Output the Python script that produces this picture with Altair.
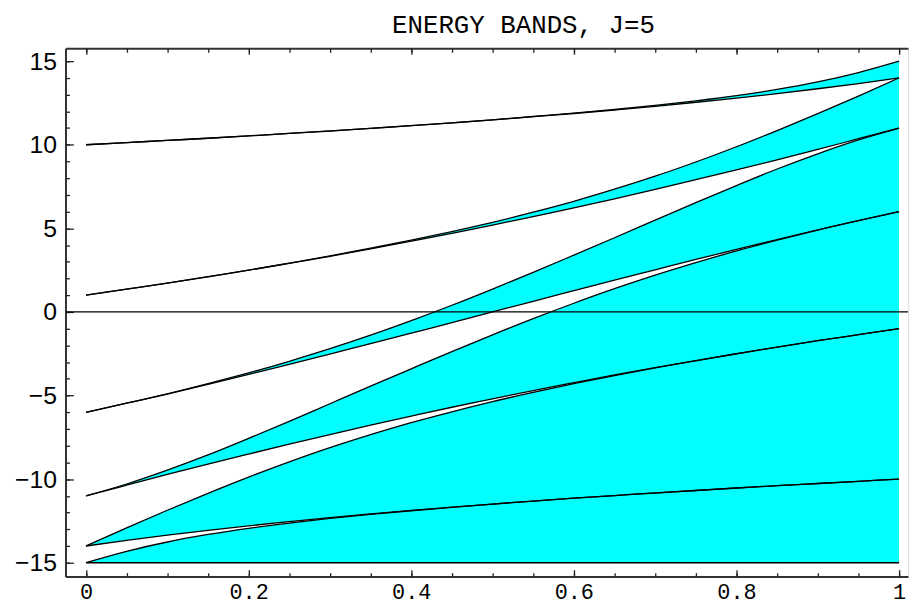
import pandas as pd
import altair as alt

# ---- data (band edges vs. parameter) ----
xv = [0.00, 0.05, 0.10, 0.15, 0.20, 0.25, 0.30, 0.35, 0.40, 0.45, 0.50,
      0.55, 0.60, 0.65, 0.70, 0.75, 0.80, 0.85, 0.90, 0.95, 1.00]
floor = [-15.0, -15.0, -15.0, -15.0, -15.0, -15.0, -15.0, -15.0, -15.0, -15.0, -15.0,
         -15.0, -15.0, -15.0, -15.0, -15.0, -15.0, -15.0, -15.0, -15.0, -15.0]
e0 = [-15.00, -14.32, -13.76, -13.31, -12.94, -12.63, -12.35, -12.11, -11.89, -11.69, -11.49,
      -11.31, -11.14, -10.98, -10.83, -10.68, -10.53, -10.39, -10.26, -10.13, -10.00]
e1 = [-14.00, -13.66, -13.35, -13.06, -12.79, -12.54, -12.30, -12.08, -11.87, -11.68, -11.49,
      -11.31, -11.14, -10.98, -10.82, -10.68, -10.53, -10.39, -10.26, -10.13, -10.00]
e2 = [-14.00, -12.91, -11.86, -10.85, -9.88, -8.97, -8.12, -7.34, -6.62, -5.97, -5.36,
      -4.81, -4.29, -3.81, -3.35, -2.92, -2.50, -2.11, -1.72, -1.36, -1.00]
e3 = [-11.00, -10.36, -9.72, -9.10, -8.50, -7.91, -7.33, -6.77, -6.23, -5.70, -5.20,
      -4.70, -4.23, -3.77, -3.33, -2.91, -2.50, -2.10, -1.72, -1.36, -1.00]
e4 = [-11.00, -10.29, -9.46, -8.55, -7.56, -6.54, -5.49, -4.44, -3.40, -2.37, -1.37,
      -0.40, 0.52, 1.39, 2.20, 2.95, 3.65, 4.29, 4.90, 5.46, 6.00]
e5 = [-6.00, -5.46, -4.91, -4.33, -3.74, -3.14, -2.52, -1.90, -1.27, -0.64, 0.00,
      0.64, 1.27, 1.90, 2.52, 3.14, 3.74, 4.33, 4.91, 5.46, 6.00]
e6 = [-6.00, -5.46, -4.90, -4.29, -3.65, -2.95, -2.20, -1.39, -0.52, 0.40, 1.37,
      2.37, 3.40, 4.44, 5.49, 6.54, 7.56, 8.55, 9.46, 10.29, 11.00]
e7 = [1.00, 1.36, 1.72, 2.10, 2.50, 2.91, 3.33, 3.77, 4.23, 4.70, 5.20,
      5.70, 6.23, 6.77, 7.33, 7.91, 8.50, 9.10, 9.72, 10.36, 11.00]
e8 = [1.00, 1.36, 1.72, 2.11, 2.50, 2.92, 3.35, 3.81, 4.29, 4.81, 5.36,
      5.97, 6.62, 7.34, 8.12, 8.97, 9.88, 10.85, 11.86, 12.91, 14.00]
e9 = [10.00, 10.13, 10.26, 10.39, 10.53, 10.68, 10.82, 10.98, 11.14, 11.31, 11.49,
      11.68, 11.87, 12.08, 12.30, 12.54, 12.79, 13.06, 13.35, 13.66, 14.00]
e10 = [10.00, 10.13, 10.26, 10.39, 10.53, 10.68, 10.83, 10.98, 11.14, 11.31, 11.49,
       11.69, 11.89, 12.11, 12.35, 12.63, 12.94, 13.31, 13.76, 14.32, 15.00]

edges = [floor, e0, e1, e2, e3, e4, e5, e6, e7, e8, e9, e10]
band_pairs = [(floor, e0), (e1, e2), (e3, e4), (e5, e6), (e7, e8), (e9, e10)]

y_major = [-15, -10, -5, 0, 5, 10, 15]
y_minor = list(range(-15, 16))
x_major = [0, 0.2, 0.4, 0.6, 0.8, 1.0]
x_minor = [i * 0.05 for i in range(21)]

band_rows = []
for b, (lo, hi) in enumerate(band_pairs):
    for xx, a, c in zip(xv, lo, hi):
        band_rows.append({"x": xx, "lo": a, "hi": c, "band": b})
bands_df = pd.DataFrame(band_rows)

edge_rows = []
for k, ys_ in enumerate(edges):
    for xx, yy in zip(xv, ys_):
        edge_rows.append({"x": xx, "y": yy, "curve": k})
edges_df = pd.DataFrame(edge_rows)

zero_df = pd.DataFrame({"z": [0]})

XS = alt.Scale(domain=[-0.0252, 1.011], nice=False, zero=False)
YS = alt.Scale(domain=[-15.83, 15.77], nice=False, zero=False)

TICK = "#222222"
DOM = "#333333"

def x_axis(orient, **kw):
    base = dict(orient=orient, title=None, grid=False, labels=False, domain=False,
                ticks=False, tickColor=TICK, tickWidth=1.3, domainColor=DOM, domainWidth=2)
    base.update(kw)
    return alt.Axis(**base)

y_axis = x_axis

areas = alt.Chart(bands_df).mark_area(color="#00FFFF", interpolate="monotone").encode(
    x=alt.X("x:Q", scale=XS, axis=x_axis("bottom", domain=True, labels=True, values=x_major,
                                         format="~g", labelFont="Liberation Mono",
                                         labelFontSize=22, labelColor="black", labelPadding=5)),
    y=alt.Y("lo:Q", scale=YS, axis=y_axis("left", domain=True, labels=True, values=y_major,
                                          format="d", labelFont="Liberation Sans",
                                          labelFontSize=25, labelColor="black", labelPadding=9)),
    y2="hi:Q",
    detail="band:N",
)

lines = alt.Chart(edges_df).mark_line(color="black", strokeWidth=1.3, interpolate="monotone").encode(
    x=alt.X("x:Q", scale=XS, axis=x_axis("bottom", ticks=True, tickSize=7, offset=-7, values=x_major)),
    y=alt.Y("y:Q", scale=YS, axis=y_axis("left", ticks=True, tickSize=8, offset=-8, values=y_major)),
    detail="curve:N",
)

zero = alt.Chart(zero_df).mark_rule(color="black", strokeWidth=1.2).encode(
    y=alt.Y("z:Q", scale=YS, axis=y_axis("left", ticks=True, tickSize=4, offset=-4, values=y_minor)),
)

ghost = dict(opacity=0, strokeWidth=0)
ax1 = alt.Chart(edges_df).mark_line(**ghost).encode(
    x=alt.X("x:Q", scale=XS, axis=x_axis("bottom", ticks=True, tickSize=4, offset=-4, values=x_minor)),
    y=alt.Y("y:Q", scale=YS, axis=None), detail="curve:N")
ax2 = alt.Chart(edges_df).mark_line(**ghost).encode(
    x=alt.X("x:Q", scale=XS, axis=x_axis("top", domain=True)),
    y=alt.Y("y:Q", scale=YS, axis=None), detail="curve:N")
ax3 = alt.Chart(edges_df).mark_line(**ghost).encode(
    x=alt.X("x:Q", scale=XS, axis=x_axis("top", ticks=True, tickSize=6, offset=-6, values=x_major)),
    y=alt.Y("y:Q", scale=YS, axis=None), detail="curve:N")
ax4 = alt.Chart(edges_df).mark_line(**ghost).encode(
    x=alt.X("x:Q", scale=XS, axis=x_axis("top", ticks=True, tickSize=4, offset=-4, values=x_minor)),
    y=alt.Y("y:Q", scale=YS, axis=None), detail="curve:N")

chart = alt.layer(areas, lines, zero, ax1, ax2, ax3, ax4).resolve_axis(
    x="independent", y="independent"
).properties(
    width=850, height=533,
    autosize=alt.AutoSizeParams(type="none"),
    padding={"left": 58, "top": 38, "right": 2, "bottom": 28},
    title=alt.TitleParams("ENERGY BANDS, J=5", font="Liberation Mono", fontSize=26,
                          fontWeight="normal", color="black", anchor="middle",
                          offset=10, dx=37),
).configure_view(stroke=None).configure(background="white")

chart.save("out.html", embed_options={"renderer": "svg", "actions": False})
